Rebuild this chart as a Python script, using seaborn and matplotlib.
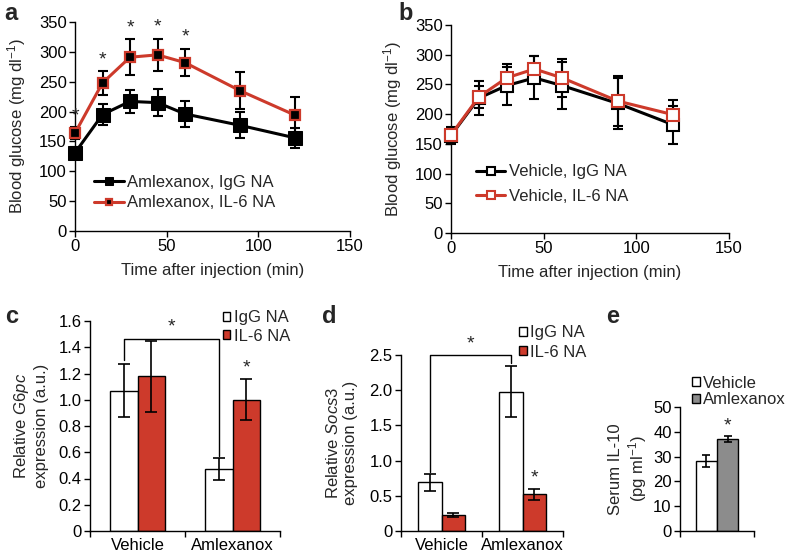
import matplotlib
matplotlib.use("Agg")
import matplotlib.pyplot as plt
import seaborn as sns
import numpy as np
import pandas as pd

# ---------------- data ----------------
time = [0, 15, 30, 45, 60, 90, 120]

a_igg = [131, 195, 217, 215, 196, 177, 156]
a_igg_err = [10, 17, 19, 22, 21, 22, 17]
a_il6 = [164, 248, 291, 295, 282, 235, 194]
a_il6_err = [10, 20, 30, 27, 23, 31, 31]
a_star_times = [0, 15, 30, 45, 60]

b_igg = [164, 227, 248, 261, 248, 218, 182]
b_igg_err = [14, 28, 32, 36, 40, 43, 32]
b_il6 = [165, 229, 261, 276, 261, 222, 199]
b_il6_err = [10, 18, 23, 21, 32, 42, 24]

bar_groups = ["Vehicle", "Amlexanox"]
bar_hues = ["IgG NA", "IL-6 NA"]

g6pc_igg = [1.07, 0.47]
g6pc_igg_err = [0.20, 0.085]
g6pc_il6 = [1.18, 1.00]
g6pc_il6_err = [0.27, 0.155]

socs3_igg = [0.69, 1.98]
socs3_igg_err = [0.12, 0.36]
socs3_il6 = [0.23, 0.52]
socs3_il6_err = [0.03, 0.08]

il10_groups = ["Vehicle", "Amlexanox"]
il10_vals = [28.3, 37.2]
il10_err = [2.3, 1.3]

RED = "#cd3a2b"
GREY = "#8c8c8c"

sns.set_theme(style="ticks")
plt.rcParams["font.family"] = ["Liberation Sans", "DejaVu Sans"]
plt.rcParams["mathtext.fontset"] = "custom"
plt.rcParams["mathtext.rm"] = "Liberation Sans"
plt.rcParams["mathtext.it"] = "Liberation Sans:italic"
plt.rcParams["axes.linewidth"] = 1.0
FS = 12

W, H = 788, 558
fig = plt.figure(figsize=(W / 100, H / 100), dpi=100)


def px_axes(left, top, right, bottom):
    return fig.add_axes([left / W, 1 - bottom / H, (right - left) / W, (bottom - top) / H])


def style_ax(ax):
    sns.despine(ax=ax)
    ax.tick_params(axis="both", direction="out", length=4, width=1, labelsize=FS, colors="black", pad=2)
    for s in ax.spines.values():
        s.set_color("black")


# ---------------- panels a, b ----------------
axa = px_axes(75, 22, 350, 231)
axb = px_axes(451, 25, 729, 233)


def line_panel(ax, s1, e1, s2, e2, lab1, lab2, filled):
    df1 = pd.DataFrame({"t": time, "y": s1})
    df2 = pd.DataFrame({"t": time, "y": s2})
    ax.errorbar(time, s1, yerr=e1, fmt="none", ecolor="black", elinewidth=1.5, capsize=3.5, capthick=1.5, zorder=2, clip_on=False)
    ax.errorbar(time, s2, yerr=e2, fmt="none", ecolor="black", elinewidth=1.5, capsize=3.5, capthick=1.5, zorder=2, clip_on=False)
    if filled:
        sns.lineplot(data=df1, x="t", y="y", ax=ax, color="black", lw=2.2, marker="s", markersize=10,
                     markerfacecolor="black", markeredgecolor="black", label=lab1, zorder=3, clip_on=False)
        sns.lineplot(data=df2, x="t", y="y", ax=ax, color=RED, lw=2.2, marker="s", markersize=7,
                     markerfacecolor="black", markeredgecolor=RED, markeredgewidth=1.6, label=lab2, zorder=4, clip_on=False)
    else:
        sns.lineplot(data=df1, x="t", y="y", ax=ax, color="black", lw=2.2, marker="s", markersize=9,
                     markerfacecolor="white", markeredgecolor="black", markeredgewidth=1.5, label=lab1, zorder=3, clip_on=False)
        sns.lineplot(data=df2, x="t", y="y", ax=ax, color=RED, lw=2.2, marker="s", markersize=9,
                     markerfacecolor="white", markeredgecolor=RED, markeredgewidth=1.5, label=lab2, zorder=4, clip_on=False)
    ax.set_xlim(0, 150)
    ax.set_ylim(0, 350)
    ax.set_xticks([0, 50, 100, 150])
    ax.set_yticks(range(0, 351, 50))
    ax.set_xlabel("Time after injection (min)", fontsize=FS, labelpad=6)
    ax.set_ylabel("Blood glucose (mg dl$^{-1}$)", fontsize=FS, labelpad=8)
    style_ax(ax)


line_panel(axa, a_igg, a_igg_err, a_il6, a_il6_err, "Amlexanox, IgG NA", "Amlexanox, IL-6 NA", True)
line_panel(axb, b_igg, b_igg_err, b_il6, b_il6_err, "Vehicle, IgG NA", "Vehicle, IL-6 NA", False)

for t in a_star_times:
    i = time.index(t)
    axa.text(t, a_il6[i] + a_il6_err[i] + 5, "*", ha="center", va="bottom", fontsize=14, zorder=6, clip_on=False)

axa.legend(loc="upper left", bbox_to_anchor=(0.04, 0.31), frameon=False, fontsize=FS,
           handlelength=1.75, handletextpad=0.2, borderpad=0, labelspacing=0.35, markerscale=0.6)
axb.legend(loc="upper left", bbox_to_anchor=(0.06, 0.37), frameon=False, fontsize=FS,
           handlelength=1.75, handletextpad=0.25, borderpad=0, labelspacing=0.55, markerscale=0.7)


# ---------------- bar panels ----------------
def bar_panel(ax, v1, e1, v2, e2, pal_colors):
    df = pd.DataFrame({
        "group": bar_groups * 2,
        "hue": [bar_hues[0]] * 2 + [bar_hues[1]] * 2,
        "val": list(v1) + list(v2),
    })
    sns.barplot(data=df, x="group", y="val", hue="hue", ax=ax, width=0.58,
                palette=dict(zip(bar_hues, pal_colors)), edgecolor="black", linewidth=1.0,
                errorbar=None, saturation=1)
    w = 0.58 / 2
    xs1 = np.arange(len(bar_groups)) - w / 2
    xs2 = np.arange(len(bar_groups)) + w / 2
    ax.errorbar(xs1, v1, yerr=e1, fmt="none", ecolor="black", elinewidth=1.2, capsize=4, capthick=1.2)
    ax.errorbar(xs2, v2, yerr=e2, fmt="none", ecolor="black", elinewidth=1.2, capsize=4, capthick=1.2)
    ax.set_xlim(-0.5, 1.5)
    ax.set_xticks([0, 1])
    ax.set_xticklabels(bar_groups)
    ax.set_xticks([-0.5, 0.5, 1.5], minor=True)
    ax.set_xlabel("")
    style_ax(ax)
    ax.tick_params(axis="x", which="major", length=0, pad=5)
    ax.tick_params(axis="x", which="minor", length=4, width=1, color="black")
    return xs1, xs2


axc = px_axes(90, 321, 280, 531)
xs1, xs2 = bar_panel(axc, g6pc_igg, g6pc_igg_err, g6pc_il6, g6pc_il6_err, ["white", RED])
axc.set_ylim(0, 1.6)
axc.set_yticks(np.arange(0, 1.61, 0.2))
axc.set_yticklabels(["0"] + [f"{v:.1f}" for v in np.arange(0.2, 1.61, 0.2)])
axc.set_ylabel("Relative $\\it{G6pc}$\nexpression (a.u.)", fontsize=FS, labelpad=7)
top_c = 1.46
axc.plot([xs1[0], xs1[0], xs1[1], xs1[1]],
         [g6pc_igg[0] + g6pc_igg_err[0] + 0.03, top_c, top_c, g6pc_igg[1] + g6pc_igg_err[1] + 0.02],
         color="black", lw=1.0, clip_on=False)
axc.text((xs1[0] + xs1[1]) / 2, top_c + 0.03, "*", ha="center", va="bottom", fontsize=14)
axc.text(xs2[1], g6pc_il6[1] + g6pc_il6_err[1] + 0.02, "*", ha="center", va="bottom", fontsize=14)
axc.legend(loc="upper left", bbox_to_anchor=(0.655, 1.09), frameon=False, fontsize=FS,
           handlelength=0.45, handleheight=0.45, handletextpad=0.2, borderpad=0, labelspacing=0.2)

axd = px_axes(401, 355, 563, 531)
xs1, xs2 = bar_panel(axd, socs3_igg, socs3_igg_err, socs3_il6, socs3_il6_err, ["white", RED])
axd.set_ylim(0, 2.5)
axd.set_yticks(np.arange(0, 2.51, 0.5))
axd.set_yticklabels(["0", "0.5", "1.0", "1.5", "2.0", "2.5"])
axd.set_ylabel("Relative $\\it{Socs3}$\nexpression (a.u.)", fontsize=FS, labelpad=8)
top_d = 2.5
axd.plot([xs1[0], xs1[0], xs1[1], xs1[1]],
         [socs3_igg[0] + socs3_igg_err[0] + 0.03, top_d, top_d, socs3_igg[1] + socs3_igg_err[1] + 0.05],
         color="black", lw=1.0, clip_on=False)
axd.text((xs1[0] + xs1[1]) / 2, top_d + 0.04, "*", ha="center", va="bottom", fontsize=14)
axd.text(xs2[1], socs3_il6[1] + socs3_il6_err[1] + 0.03, "*", ha="center", va="bottom", fontsize=14)
axd.legend(loc="upper left", bbox_to_anchor=(0.68, 1.215), frameon=False, fontsize=FS,
           handlelength=0.45, handleheight=0.45, handletextpad=0.2, borderpad=0, labelspacing=0.25)

# ---------------- panel e ----------------
axe = px_axes(680, 407, 754, 531)
dfe = pd.DataFrame({"x": ["IL-10"] * 2, "group": il10_groups, "val": il10_vals})
sns.barplot(data=dfe, x="x", y="val", hue="group", ax=axe, width=0.57,
            palette=dict(zip(il10_groups, ["white", GREY])), edgecolor="black", linewidth=1.0,
            errorbar=None, saturation=1)
we = 0.57 / 2
xe = np.array([-we / 2, we / 2])
axe.errorbar(xe, il10_vals, yerr=il10_err, fmt="none", ecolor="black", elinewidth=1.2, capsize=3, capthick=1.2)
axe.text(xe[1], il10_vals[1] + il10_err[1] + 0.6, "*", ha="center", va="bottom", fontsize=14)
axe.set_xlim(-0.5, 0.5)
axe.set_ylim(0, 50)
axe.set_yticks(range(0, 51, 10))
axe.set_xticks([])
axe.set_xticks([-0.5, 0.5], minor=True)
axe.set_xlabel("")
axe.set_ylabel("Serum IL-10\n(pg ml$^{-1}$)", fontsize=FS, labelpad=3)
style_ax(axe)
axe.tick_params(axis="x", which="minor", length=4, width=1, color="black")
axe.legend(loc="upper left", bbox_to_anchor=(0.05, 1.32), frameon=False, fontsize=FS,
           handlelength=0.45, handleheight=0.45, handletextpad=0.2, borderpad=0, labelspacing=0.1)

# ---------------- panel letters ----------------
for lab, x, y in [("a", 4, 20), ("b", 398, 20), ("c", 5, 323), ("d", 322, 323), ("e", 606, 323)]:
    fig.text(x / W, 1 - y / H, lab, fontsize=17, fontweight="bold", va="baseline", ha="left")

fig.savefig("out.png", dpi=100)
